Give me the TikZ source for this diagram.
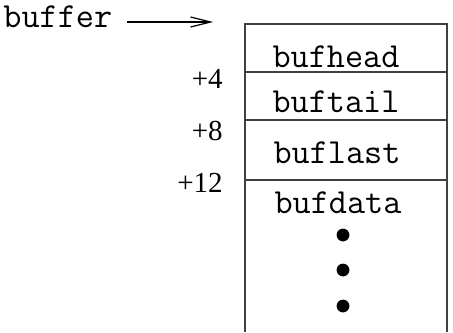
\documentclass[tikz,border=0pt]{standalone}
\usepackage{fontspec}
\setmainfont{Liberation Serif}
\usetikzlibrary{arrows.meta}
\tikzset{
	fieldname/.style={font=\fontsize{17.6}{19}\selectfont\ttfamily, anchor=base, inner sep=0pt},
	offsetlbl/.style={font=\fontsize{14.5}{16}\selectfont, anchor=base east, inner sep=0pt},
	cell/.style={draw=black!75, line width=0.8pt},
}
\begin{document}
\begin{tikzpicture}[x=0.5pt,y=-0.5pt]
	\useasboundingbox (0,0) rectangle (453,332);
	% the buffer record
	\draw[cell] (245,332) -- (245,24) -- (447,24) -- (447,332);
	\draw[cell] (245,72) -- (447,72);
	\draw[cell] (245,120) -- (447,120);
	\draw[cell] (245,180) -- (447,180);
	\node[fieldname] (head) at (336,67) {bufhead};
	\node[fieldname] (tail) at (336,112) {buftail};
	\node[fieldname] (last) at (337,163) {buflast};
	\node[fieldname] (data) at (338,213) {bufdata};
	\fill (343,235) circle (3.2pt);
	\fill (343,270) circle (3.2pt);
	\fill (343,306) circle (3.2pt);
	% offsets
	\node[offsetlbl] (off4) at (223,88) {+4};
	\node[offsetlbl] (off8) at (223,140) {+8};
	\node[offsetlbl] (off12) at (223,192) {+12};
	% pointer
	\node[fieldname, anchor=base west] (buf) at (3,27) {buffer};
	\coordinate (tip) at (213,22);
	\draw[line width=0.6pt, -{Straight Barb[length=10pt,width=5pt]}] (buf.east |- tip) ++(14,0) -- (tip);
\end{tikzpicture}
\end{document}
